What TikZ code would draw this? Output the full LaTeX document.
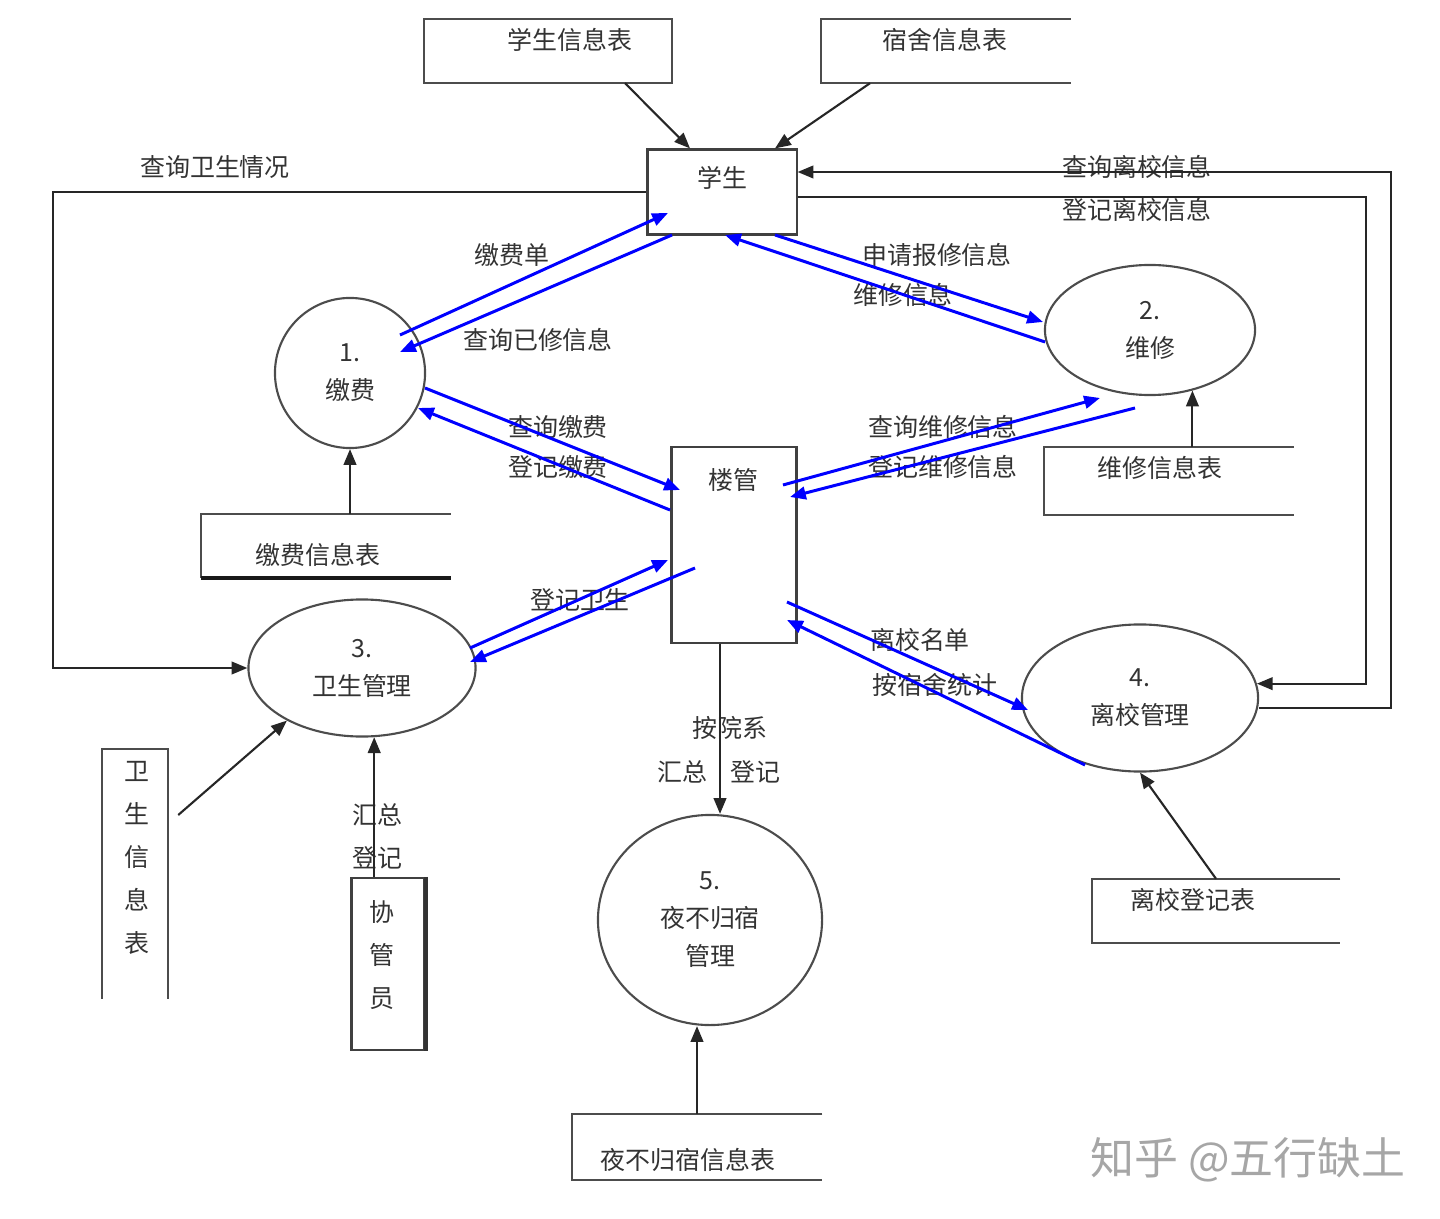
\documentclass[tikz,border=0pt]{standalone}
\usepackage{fontspec}
\setmainfont{Noto Sans CJK SC}
\usetikzlibrary{arrows.meta,shapes.geometric}

\begin{document}
\begin{tikzpicture}[x=0.01cm, y=-0.01cm,
  font=\fontsize{7.1}{10.8}\selectfont, text=black!80,
  proc/.style={draw=black!70, line width=0.6pt, ellipse, inner sep=0pt, align=center},
  box/.style={draw=black!75, line width=0.6pt, rectangle, inner sep=0pt},
  store/.style={rectangle, inner sep=0pt},
  side/.style={draw=black!70, line width=0.6pt},
  flow/.style={draw=black!85, line width=0.6pt, -{Triangle[length=4.5pt,width=3.6pt]}},
  msg/.style={draw=blue, line width=0.85pt, -{Triangle[length=4.5pt,width=3.6pt]}},
  lbl/.style={inner sep=0pt},
  vlbl/.style={inner sep=0pt, align=center, font=\fontsize{7.1}{12.2}\selectfont}]

\useasboundingbox (0,0) rectangle (1440,1219);

% -------- entities and processes -----------
\node [box, minimum width=1.49cm, minimum height=0.85cm] (stu) at (722,192) {};
\node [lbl] (stutxt) at (722,178) {学生};
\node [box, minimum width=1.25cm, minimum height=1.95cm] (mgr) at (734,545) {};
\node [lbl] (mgrtxt) at (733,480) {楼管};
\node [box, minimum width=0.73cm, minimum height=1.72cm] (xg) at (388,964) {};
\draw [black!80, line width=1.1pt] (xg.north east) -- (xg.south east);
\node [vlbl] (xgtxt) at (382,955) {协\\管\\员};

\node [proc, minimum width=1.5cm, minimum height=1.5cm] (pay) at (350,373) {1.\\缴费};
\node [proc, minimum width=2.1cm, minimum height=1.3cm] (rep) at (1150,330) {2.\\维修};
\node [proc, minimum width=2.27cm, minimum height=1.37cm] (hyg) at (362,668) {3.\\卫生管理};
\node [proc, minimum width=2.36cm, minimum height=1.47cm] (lea) at (1140,698) {4.\\离校管理};
\node [proc, minimum width=2.24cm, minimum height=2.1cm] (ngt) at (710,920) {5.\\夜不归宿\\管理};

% -------- data stores -----------
\node [store, minimum width=2.47cm, minimum height=0.63cm] (sinfo) at (548,51) {};
\node [lbl] (sinfotxt) at (570,40) {学生信息表};
\draw [side] (sinfo.north west) rectangle (sinfo.south east);

\node [store, minimum width=2.48cm, minimum height=0.63cm] (dinfo) at (946,51) {};
\node [lbl] (dinfotxt) at (945,40) {宿舍信息表};
\draw [side] (dinfo.north east) -- (dinfo.north west) -- (dinfo.south west) -- (dinfo.south east);

\node [store, minimum width=2.48cm, minimum height=0.63cm] (finfo) at (326,546) {};
\node [lbl] (finfotxt) at (318,555) {缴费信息表};
\draw [side] (finfo.north east) -- (finfo.north west) -- (finfo.south west);
\draw [side, line width=1.1pt, draw=black!90] (finfo.south west) -- (finfo.south east);

\node [store, minimum width=2.48cm, minimum height=0.67cm] (rinfo) at (1169,481) {};
\node [lbl] (rinfotxt) at (1160,468) {维修信息表};
\draw [side] (rinfo.north east) -- (rinfo.north west) -- (rinfo.south west) -- (rinfo.south east);

\node [store, minimum width=0.65cm, minimum height=2.48cm] (hinfo) at (135,874) {};
\node [vlbl] (hinfotxt) at (137,858) {卫\\生\\信\\息\\表};
\draw [side] (hinfo.south west) -- (hinfo.north west) -- (hinfo.north east) -- (hinfo.south east);

\node [store, minimum width=2.47cm, minimum height=0.63cm] (linfo) at (1216,911) {};
\node [lbl] (linfotxt) at (1193,900) {离校登记表};
\draw [side] (linfo.north east) -- (linfo.north west) -- (linfo.south west) -- (linfo.south east);

\node [store, minimum width=2.49cm, minimum height=0.65cm] (ninfo) at (697,1147) {};
\node [lbl] (ninfotxt) at (688,1160) {夜不归宿信息表};
\draw [side] (ninfo.north east) -- (ninfo.north west) -- (ninfo.south west) -- (ninfo.south east);

% -------- labels -----------
\node [lbl] (l1) at (215,167) {查询卫生情况};
\node [lbl] (l2) at (1137,167) {查询离校信息};
\node [lbl] (l3) at (1137,210) {登记离校信息};
\node [lbl] (l4) at (512,255) {缴费单};
\node [lbl] (l5) at (538,340) {查询已修信息};
\node [lbl] (l6) at (937,255) {申请报修信息};
\node [lbl] (l7) at (903,295) {维修信息};
\node [lbl] (l8) at (558,427) {查询缴费};
\node [lbl] (l9) at (558,467) {登记缴费};
\node [lbl] (l10) at (943,427) {查询维修信息};
\node [lbl] (l11) at (943,467) {登记维修信息};
\node [lbl] (l12) at (580,600) {登记卫生};
\node [lbl] (l13) at (920,640) {离校名单};
\node [lbl] (l14) at (935,685) {按宿舍统计};
\node [lbl] (l15) at (730,728) {按院系};
\node [lbl] (l16) at (682,772) {汇总};
\node [lbl] (l17) at (755,772) {登记};
\node [vlbl] (l18) at (377,836) {汇总\\登记};
\node [lbl, text=black!35, font=\fontsize{12.5}{14}\selectfont] (mark) at (1248,1160) {知乎 @五行缺土};

% -------- black flows -----------
\draw [flow] ([shift={(77,0)}]sinfo.south) -- ([shift={(-32,0)}]stu.north);
\draw [flow] ([shift={(-76,0)}]dinfo.south) -- ([shift={(53,0)}]stu.north);
\draw [flow] (stu.west) -- ++(-593,0) |- (hyg.west);
\draw [flow] ([shift={(0,10)}]lea.east) -- ++(132,0) |- ([shift={(0,-20)}]stu.east);
\draw [flow] ([shift={(0,5)}]stu.east) -- ++(568,0) |- (lea.7);
\draw [flow] (pay.south |- finfo.north) -- (pay.south);
\draw [flow] (rep.-55 |- rinfo.north) -- (rep.-55);
\draw [flow] ([shift={(10,-59)}]hinfo.east) -- (hyg.215);
\draw [flow] (hyg.-80 |- xg.north) -- (hyg.-80);
\draw [flow] (linfo.north) -- (lea.south);
\draw [flow] (ninfo.north) -- (ninfo.north |- ngt.south);
\draw [flow] ([shift={(-14,0)}]mgr.south) -- ([shift={(-14,0)}]mgr.south |- ngt.north);

% -------- blue flows -----------
\draw [msg] ([shift={(50,-38)}]pay.center) -- ([shift={(-54,21)}]stu.center);
\draw [msg] ([shift={(-50,43)}]stu.center) -- ([shift={(50,-21)}]pay.center);
\draw [msg] ([shift={(53,43)}]stu.center) -- ([shift={(-107,-8)}]rep.center);
\draw [msg] ([shift={(-105,12)}]rep.center) -- ([shift={(3,43)}]stu.center);
\draw [msg] ([shift={(75,15)}]pay.center) -- ([shift={(-54,-55)}]mgr.center);
\draw [msg] ([shift={(-64,-35)}]mgr.center) -- ([shift={(68,35)}]pay.center);
\draw [msg] ([shift={(49,-60)}]mgr.center) -- ([shift={(-50,68)}]rep.center);
\draw [msg] ([shift={(-15,78)}]rep.center) -- ([shift={(56,-48)}]mgr.center);
\draw [msg] ([shift={(108,-20)}]hyg.center) -- ([shift={(-66,15)}]mgr.center);
\draw [msg] ([shift={(-39,23)}]mgr.center) -- ([shift={(108,-6)}]hyg.center);
\draw [msg] ([shift={(53,57)}]mgr.center) -- ([shift={(-112,12)}]lea.center);
\draw [msg] ([shift={(-55,67)}]lea.center) -- ([shift={(53,75)}]mgr.center);
\end{tikzpicture}
\end{document}
